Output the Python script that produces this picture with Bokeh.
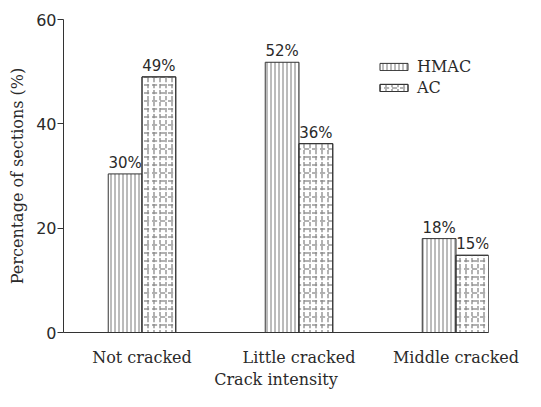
import numpy as np
from bokeh.plotting import figure
from bokeh.models import ColumnDataSource, Range1d, FixedTicker, Legend, LegendItem
from bokeh.core.properties import value
from bokeh.embed import file_html
from bokeh.resources import INLINE

categories = ["Not cracked", "Little cracked", "Middle cracked"]
hmac = [30.4, 51.8, 18.0]
ac = [49.0, 36.2, 14.8]
hmac_labels = ["30%", "52%", "18%"]
ac_labels = ["49%", "36%", "15%"]
y_ticks = [0, 20, 40, 60]

centers = np.arange(len(categories)) + 0.5
bw = 0.215

src_h = ColumnDataSource(dict(x=centers - bw / 2, top=hmac, lab=hmac_labels))
src_a = ColumnDataSource(dict(x=centers + bw / 2, top=ac, lab=ac_labels))

TXT = "#2a2a2a"
p = figure(width=525, height=391, output_backend="svg", toolbar_location=None,
           x_range=Range1d(0, 2.707), y_range=Range1d(0, 60),
           min_border_left=63, min_border_right=37, min_border_top=19, min_border_bottom=56)
p.outline_line_color = None
p.grid.visible = False
p.background_fill_color = "white"

rh = p.vbar(x="x", top="top", width=bw, source=src_h, fill_color="white",
            line_color="#333333", line_width=1,
            hatch_pattern="vertical_line", hatch_color="#777777", hatch_scale=4, hatch_weight=1)
ra1 = p.vbar(x="x", top="top", width=bw, source=src_a, fill_color="white",
             line_color="#333333", line_width=1,
             hatch_pattern="horizontal_dash", hatch_color="#888888", hatch_scale=8, hatch_weight=1.3)
ra2 = p.vbar(x="x", top="top", width=bw, source=src_a, fill_color=None,
             line_color="#333333", line_width=1,
             hatch_pattern="vertical_dash", hatch_color="#888888", hatch_scale=6, hatch_weight=1.3)

for s in (src_h, src_a):
    p.text(x="x", y="top", text="lab", source=s, text_align="center", text_baseline="bottom",
           y_offset=-2, text_font=value("DejaVu Sans"), text_font_size="15px", text_color=TXT)

# axes
xa = p.xaxis[0]
xa.ticker = FixedTicker(ticks=list(centers))
xa.major_label_overrides = {float(c): lab for c, lab in zip(centers, categories)}
xa.major_tick_line_color = None
xa.minor_tick_line_color = None
xa.axis_line_color = "#333333"
xa.major_label_text_font = "DejaVu Serif"
xa.major_label_text_font_size = "16px"
xa.major_label_text_color = TXT
xa.major_label_standoff = 9
xa.axis_label = "Crack intensity"
xa.axis_label_text_font = "DejaVu Serif"
xa.axis_label_text_font_size = "16px"
xa.axis_label_text_font_style = "normal"
xa.axis_label_text_color = TXT
xa.axis_label_standoff = 0

ya = p.yaxis[0]
ya.ticker = FixedTicker(ticks=y_ticks)
ya.minor_tick_line_color = None
ya.major_tick_out = 6
ya.major_tick_in = 0
ya.axis_line_color = "#333333"
ya.major_tick_line_color = "#333333"
ya.major_label_text_font = "DejaVu Sans"
ya.major_label_text_font_size = "16px"
ya.major_label_text_color = TXT
ya.major_label_standoff = 1
ya.axis_label = "Percentage of sections (%)"
ya.axis_label_text_font = "DejaVu Serif"
ya.axis_label_text_font_size = "16px"
ya.axis_label_text_font_style = "normal"
ya.axis_label_text_color = TXT
ya.axis_label_standoff = 6

B = 330
legend = Legend(items=[LegendItem(label="HMAC", renderers=[rh]),
                       LegendItem(label="AC", renderers=[ra1, ra2])],
                location=(313, B - 54 - 41), orientation="vertical",
                glyph_width=35, glyph_height=9, label_height=20, spacing=1,
                label_standoff=6, padding=0, margin=0,
                border_line_color=None, background_fill_alpha=0,
                label_text_font="DejaVu Serif", label_text_font_size="16px",
                label_text_color=TXT)
p.add_layout(legend)

open("out.html", "w").write(file_html(p, INLINE))
